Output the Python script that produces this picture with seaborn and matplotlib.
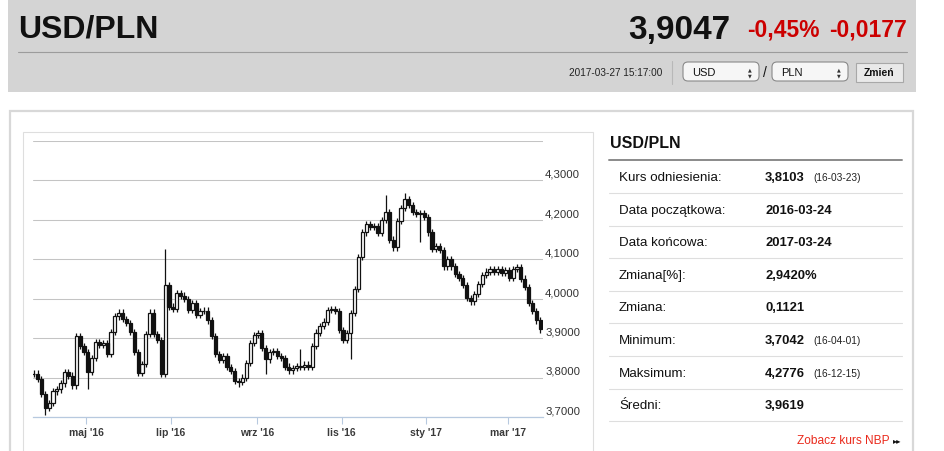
import numpy as np
import pandas as pd
import matplotlib
matplotlib.use('Agg')
import matplotlib.pyplot as plt
from matplotlib.patches import Rectangle, FancyBboxPatch
import seaborn as sns

# Kurs USD/PLN - zamkniecia co ~2 sesje
close = [3.810, 3.797, 3.758, 3.722, 3.735, 3.765, 3.770, 3.785, 3.815, 3.805,
         3.780, 3.905, 3.880, 3.865, 3.815, 3.850, 3.890, 3.882, 3.888, 3.860,
         3.915, 3.955, 3.965, 3.948, 3.938, 3.915, 3.865, 3.812, 3.835, 3.910,
         3.965, 3.910, 3.895, 3.810, 4.035, 3.980, 3.975, 4.015, 4.008, 4.000,
         3.972, 3.990, 3.958, 3.968, 3.970, 3.945, 3.905, 3.860, 3.845, 3.855,
         3.827, 3.817, 3.792, 3.790, 3.800, 3.837, 3.888, 3.908, 3.912, 3.875,
         3.846, 3.865, 3.868, 3.855, 3.850, 3.828, 3.818, 3.825, 3.830, 3.827,
         3.833, 3.826, 3.880, 3.914, 3.930, 3.942, 3.972, 3.973, 3.968, 3.920,
         3.895, 3.912, 3.964, 4.025, 4.105, 4.168, 4.190, 4.183, 4.185, 4.166,
         4.200, 4.220, 4.150, 4.130, 4.197, 4.230, 4.252, 4.238, 4.220, 4.214,
         4.218, 4.207, 4.168, 4.127, 4.134, 4.124, 4.082, 4.100, 4.082, 4.062,
         4.053, 4.035, 4.002, 3.993, 4.012, 4.038, 4.060, 4.069, 4.076, 4.069,
         4.076, 4.066, 4.072, 4.053, 4.075, 4.080, 4.051, 4.030, 3.990, 3.968,
         3.945, 3.922]
first_open = 3.8103

# wyrazne knoty (indeks swiecy, wartosc)
spike_hi_idx = [34, 69, 91, 96]
spike_hi_val = [4.127, 3.873, 4.262, 4.268]
spike_lo_idx = [3, 14, 53, 60, 82, 100]
spike_lo_val = [3.704, 3.770, 3.775, 3.810, 3.848, 4.145]

y_ticks = [3.7, 3.8, 3.9, 4.0, 4.1, 4.2, 4.3, 4.4]
y_labels = ['3,7000', '3,8000', '3,9000', '4,0000', '4,1000', '4,2000', '4,3000']
month_ticks = ['2016-05-01', '2016-07-01', '2016-09-01', '2016-11-01', '2017-01-01', '2017-03-01']
month_labels = ["maj '16", "lip '16", "wrz '16", "lis '16", "sty '17", "mar '17"]

row_labels = ['Kurs odniesienia:', 'Data początkowa:', 'Data końcowa:', 'Zmiana[%]:',
              'Zmiana:', 'Minimum:', 'Maksimum:', 'Średni:']
row_values = ['3,8103', '2016-03-24', '2017-03-24', '2,9420%', '0,1121', '3,7042', '4,2776', '3,9619']
row_dates = ['(16-03-23)', '', '', '', '', '(16-04-01)', '(16-12-15)', '']

sns.set_theme(style='white')
plt.rcParams['font.family'] = ['Liberation Sans', 'DejaVu Sans']

W, H = 945, 452
fig = plt.figure(figsize=(W / 100, H / 100), dpi=100)
fig.patch.set_facecolor('white')

# tlo strony w pikselach
bg = fig.add_axes([0, 0, 1, 1])
bg.set_xlim(0, W)
bg.set_ylim(H, 0)
bg.axis('off')

bg.add_patch(Rectangle((8, 0), 908, 93, fc='#d4d4d4', ec='none'))
bg.plot([18, 907], [53, 53], color='#9c9c9c', lw=0.8)
bg.text(18, 38, 'USD/PLN', fontsize=23, fontweight='bold', color='#111', va='baseline')
bg.text(730, 39, '3,9047', fontsize=24, fontweight='bold', color='#111', va='baseline', ha='right')
bg.text(747, 37, '-0,45%', fontsize=16.5, fontweight='bold', color='#cc0000', va='baseline')
bg.text(829, 37, '-0,0177', fontsize=16.5, fontweight='bold', color='#cc0000', va='baseline')
bg.text(662, 73, '2017-03-27 15:17:00', fontsize=7.2, color='#222', ha='right', va='center')
bg.plot([672, 672], [62, 85], color='#b8b8b8', lw=0.8)
for x0, lab in [(683, 'USD'), (772, 'PLN')]:
    bg.add_patch(FancyBboxPatch((x0, 63), 76, 19, boxstyle='round,pad=0,rounding_size=5',
                                fc='#f6f6f6', ec='#8a8a8a', lw=0.8))
    bg.text(x0 + 9, 72.5, lab, fontsize=8, color='#111', va='center')
    bg.text(x0 + 67, 70, '▲', fontsize=3.5, color='#333', ha='center', va='center', family='DejaVu Sans')
    bg.text(x0 + 67, 76, '▼', fontsize=3.5, color='#333', ha='center', va='center', family='DejaVu Sans')
bg.text(765, 73, '/', fontsize=10, color='#111', ha='center', va='center')
bg.add_patch(Rectangle((856, 64), 47, 19, fc='#e9e9e9', ec='#a8a8a8', lw=0.8))
bg.text(879.5, 73.5, 'Zmień', fontsize=7.5, fontweight='bold', color='#111', ha='center', va='center')

# ramki panelu
bg.add_patch(Rectangle((10, 112), 903, 360, fc='white', ec='#d8d8d8', lw=1.6))
bg.add_patch(Rectangle((23, 133), 570, 340, fc='white', ec='#dedede', lw=0.8))

# tabela po prawej
bg.text(610, 144, 'USD/PLN', fontsize=11.5, fontweight='bold', color='#111', va='center')
bg.plot([609, 902], [161, 161], color='#8a8a8a', lw=1.4)
row_y = np.arange(len(row_labels)) * 32.6 + 178
for y, lab, val, dt in zip(row_y, row_labels, row_values, row_dates):
    bg.text(619, y, lab, fontsize=9.6, color='#111', va='center')
    bg.text(765, y, val, fontsize=9.4, fontweight='bold', color='#111', va='center')
    if dt:
        bg.text(813, y + 0.5, dt, fontsize=7.3, color='#222', va='center')
    bg.plot([609, 902], [y + 16, y + 16], color='#dedede', lw=0.8)
bg.text(890, 441, 'Zobacz kurs NBP', fontsize=8.6, color='#ea2a1c', ha='right', va='center')
bg.text(893, 441, '▸▸', fontsize=6, color='#111', va='center', family='DejaVu Sans')

# wykres swiecowy
ax = fig.add_axes([33 / W, (H - 418) / H, 510 / W, 276 / H])
ax.set_facecolor('none')

dates = pd.date_range('2016-03-24', '2017-03-24', periods=len(close))
c = np.array(close)
o = np.r_[first_open, c[:-1]]
hi = np.maximum(o, c) + 0.008
lo = np.minimum(o, c) - 0.008
hi[spike_hi_idx] = spike_hi_val
lo[spike_lo_idx] = spike_lo_val
up = c >= o
step = (dates[1] - dates[0]).total_seconds() / 86400
bw = step * 0.8

ax.vlines(dates, lo, hi, color='#111', lw=0.9, zorder=3)
ax.bar(dates[up], (c - o)[up], bottom=o[up], width=bw, color='white', edgecolor='#111', lw=0.9, zorder=4)
ax.bar(dates[~up], (o - c)[~up], bottom=c[~up], width=bw, color='#111', edgecolor='#111', lw=0.9, zorder=4)

ax.set_xlim(pd.Timestamp('2016-03-23 12:00'), pd.Timestamp('2017-03-26'))
ax.set_ylim(3.7, 4.4)
ax.set_yticks(y_ticks)
ax.set_yticklabels([])
ax.yaxis.grid(True, color='#c4c4c4', lw=0.75)
ax.xaxis.grid(False)
ax.set_xticks(pd.to_datetime(month_ticks))
ax.set_xticklabels(month_labels, fontsize=7.5, fontweight='bold', color='#3a3a3a')
ax.tick_params(axis='x', bottom=True, length=5, width=0.8, color='#b7c9df', pad=2.5)
ax.tick_params(axis='y', left=False, right=False)
for s in ['top', 'left', 'right']:
    ax.spines[s].set_visible(False)
ax.spines['bottom'].set_color('#b7c9df')
ax.spines['bottom'].set_linewidth(0.9)
ax.spines['bottom'].set_zorder(5)

for v, lab in zip(y_ticks, y_labels):
    ax.text(1.004, v + 0.004, lab, transform=ax.get_yaxis_transform(), fontsize=8.2,
            color='#333', va='bottom', ha='left')

plt.savefig('out.png', dpi=100)
